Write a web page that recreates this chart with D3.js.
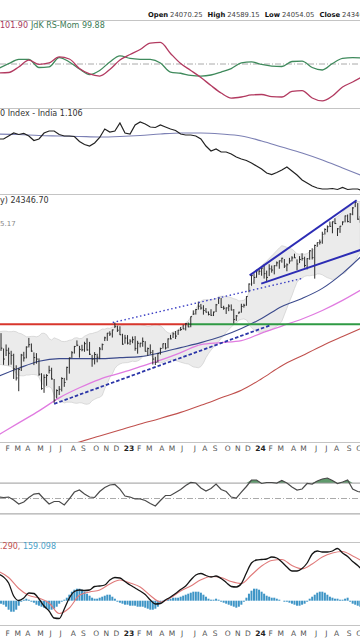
<!DOCTYPE html>
<html>
<head>
<meta charset="utf-8">
<script src="https://cdn.jsdelivr.net/npm/d3@7"></script>
<style>
  body { margin: 0; background: #fff; }
  svg { display: block; }
  text { font-family: "DejaVu Sans", Verdana, sans-serif; }
</style>
</head>
<body>
<div id="chart"></div>
<script>
// weekly bars (Friday), 14 Jan 2022 .. 11 Oct 2024
const weeks = d3.timeFriday.range(new Date(2022, 0, 14), new Date(2024, 9, 12))

const high = [
  18350, 18351, 17600, 17794, 17640, 17490, 17351, 16815, 16694, 17344, 17442, 17704, 18114, 17842, 17414, 17379, 17133,
  16456, 16400, 16414, 16794, 16704, 16200, 15749, 15890, 16275, 16248, 16752, 17172, 17474, 17724, 17992, 17727, 17778,
  17925, 18096, 17919, 17295, 17428, 17348, 17670, 17838, 18175, 18362, 18443, 18534, 18888, 18728, 18696, 18318, 18265,
  18252, 18050, 18183, 18202, 17972, 17877, 18134, 17954, 17645, 17799, 17529, 17207, 17381, 17639, 17842, 17863, 18089,
  18267, 18389, 18458, 18508, 18663, 18777, 18864, 18887, 19201, 19524, 19595, 19992, 19867, 19796, 19646, 19465, 19584,
  19458, 19867, 20222, 20196, 19766, 19675, 19849, 19840, 19593, 19277, 19451, 19875, 19875, 20291, 21006, 21493, 21593,
  21801, 21834, 21929, 22124, 21750, 22127, 22053, 22068, 22297, 22353, 22526, 22446, 22180, 22516, 22619, 22775, 22427,
  22625, 22795, 22588, 22503, 22994, 23111, 23339, 23490, 23667, 24175, 24401, 24592, 24855, 24861, 25078, 24419, 24563,
  24867, 25268, 25333, 25434, 25849, 26277, 26134, 25234
]
const low = [
  17900, 17485, 16837, 17244, 16810, 16843, 16203, 16134, 15671, 16556, 16988, 17135, 17650, 17442, 16824, 16888, 16341,
  15735, 15602, 15903, 16444, 16172, 15183, 15368, 15511, 15661, 15858, 16143, 16438, 17154, 17359, 17710, 17166, 17468,
  17445, 17497, 17291, 16748, 16855, 16950, 17098, 17520, 17959, 17969, 18210, 18133, 18604, 18410, 18255, 17780, 17833,
  17796, 17774, 17854, 17493, 17353, 17653, 17684, 17455, 17255, 17324, 16850, 16828, 16940, 17312, 17597, 17553, 17613,
  18042, 18109, 18060, 18262, 18464, 18544, 18483, 18647, 18647, 19282, 19300, 19562, 19563, 19296, 19412, 19257, 19229,
  19224, 19433, 19866, 19657, 19554, 19333, 19480, 19518, 18838, 18973, 19329, 19400, 19668, 19768, 20507, 20872, 20977,
  21329, 21500, 21450, 21285, 21137, 21430, 21630, 21530, 22004, 21860, 22224, 21905, 21711, 22163, 22303, 22503, 21778,
  22198, 22348, 21933, 21821, 22404, 22417, 21281, 23204, 23350, 23398, 23992, 24141, 24508, 24074, 24686, 23894, 24099,
  24607, 24799, 24801, 24754, 25285, 25847, 24967, 24772
]
const close = [
  18256, 17617, 17102, 17516, 17375, 17276, 16658, 16245, 16630, 17287, 17153, 17670, 17784, 17476, 17172, 17102, 16411,
  15782, 16266, 16352, 16584, 16202, 15294, 15699, 15752, 16220, 16049, 16719, 17158, 17398, 17698, 17758, 17559, 17539,
  17833, 17531, 17327, 17094, 17315, 17186, 17576, 17787, 18117, 18350, 18308, 18513, 18697, 18497, 18269, 17807, 18105,
  17859, 17957, 18028, 17604, 17854, 17856, 17944, 17466, 17594, 17413, 17100, 16945, 17360, 17599, 17828, 17624, 18065,
  18069, 18315, 18203, 18499, 18534, 18563, 18826, 18665, 19189, 19332, 19564, 19745, 19646, 19517, 19428, 19310, 19265,
  19435, 19820, 20192, 19674, 19638, 19653, 19751, 19542, 19047, 19230, 19425, 19732, 19795, 20268, 20970, 21457, 21349,
  21731, 21711, 21895, 21572, 21353, 21854, 21783, 22041, 22213, 22339, 22494, 22023, 22097, 22327, 22514, 22519, 22147,
  22420, 22476, 22055, 22467, 22957, 22531, 23290, 23466, 23501, 24011, 24324, 24502, 24531, 24835, 24718, 24368, 24541,
  24823, 25236, 24852, 25357, 25791, 26179, 25015, 24964
]
// 19 closes before the first bar, so the 20-week bands start on bar one
const warmupClose = [17324, 17369, 17585, 17853, 17532, 17895, 18339, 18115, 17672, 17916, 18103, 17765, 17026, 17197, 17511, 16985, 17004, 17354, 17813]

// moving averages, read every 8 weeks
const sma50 = [16322, 16682, 17003, 17120, 17120, 17120, 17167, 17214, 17403, 17642, 17884, 18180, 18581, 19095, 19732, 20166, 20725, 21590, 22555]
const sma100 = [13914, 14377, 14855, 15392, 15818, 16188, 16456, 16750, 17050, 17403, 17787, 17884, 17983, 18355, 18709, 19070, 19517, 20057, 20611]
const sma200 = [12749, 13031, 13246, 13464, 13650, 13876, 14105, 14337, 14554, 14794, 15080, 15391, 15710, 16211, 16797, 17262, 17738, 18180, 18566]

// JdK lines, every 4 weeks
const rsRatio = [99.39, 99.42, 99.80, 100.27, 99.97, 100.07, 100.48, 100.34, 99.69, 99.32, 99.18, 99.63, 100.27, 100.65, 100.99, 101.43, 101.47, 100.72, 100.03, 99.56, 99.08, 98.53, 98.02, 97.68, 97.75, 97.89, 97.92, 97.78, 97.75, 98.13, 98.19, 97.68, 97.48, 97.82, 98.43, 98.77, 99.05]
const rsMom = [99.69, 100.02, 100.31, 100.31, 99.76, 99.80, 100.44, 100.14, 99.66, 99.28, 99.56, 100.14, 100.55, 100.38, 100.32, 100.31, 100.07, 99.45, 99.37, 99.22, 99.18, 99.25, 99.45, 99.69, 100.07, 100.14, 99.97, 99.86, 99.83, 100.17, 100.20, 99.76, 99.59, 100.03, 100.38, 100.44, 100.41]

// relative strength vs India index, every 2 weeks; its average every 8 weeks
const relLine = [1.310, 1.310, 1.322, 1.334, 1.328, 1.332, 1.322, 1.304, 1.310, 1.334, 1.342, 1.342, 1.328, 1.322, 1.322, 1.320, 1.300, 1.288, 1.282, 1.294,
  1.316, 1.350, 1.338, 1.342, 1.374, 1.334, 1.330, 1.366, 1.378, 1.370, 1.358, 1.356, 1.366, 1.358, 1.350, 1.344, 1.330, 1.326, 1.326, 1.322,
  1.310, 1.282, 1.262, 1.270, 1.258, 1.258, 1.250, 1.238, 1.230, 1.224, 1.214, 1.202, 1.190, 1.174, 1.168, 1.176, 1.186, 1.198, 1.182, 1.166,
  1.146, 1.134, 1.122, 1.114, 1.110, 1.110, 1.112, 1.108, 1.116, 1.108, 1.110, 1.110, 1.106]
const relAvg = [1.330, 1.328, 1.324, 1.322, 1.320, 1.318, 1.320, 1.324, 1.330, 1.334, 1.334, 1.330, 1.322, 1.302, 1.278, 1.254, 1.226, 1.194, 1.166]

// RSI, every 2 weeks
const rsi = [51.9, 51.3, 51.9, 48.1, 42.9, 45.5, 51.3, 55.8, 56.5, 49.4, 42.9, 46.1, 46.1, 41.6, 49.4, 58.4, 61.0, 55.8, 51.9, 51.3,
  59.1, 64.3, 67.5, 68.2, 62.3, 53.2, 51.9, 49.4, 49.4, 47.4, 43.5, 40.3, 47.4, 53.9, 53.9, 57.8, 61.7, 66.9, 70.8, 70.1,
  63.6, 59.7, 63.0, 68.8, 61.7, 59.1, 51.9, 50.6, 58.4, 65.6, 74.0, 74.0, 69.5, 70.8, 70.8, 70.1, 73.4, 70.1, 64.9, 61.0,
  62.3, 69.5, 68.8, 72.7, 75.3, 76.6, 73.4, 69.5, 71.4, 74.0, 62.3, 59.1, 58.4]

// MACD every 2 weeks, signal every 4 weeks, histogram weekly
const macd = [534, 474, 354, 94, 4, 54, 154, 144, 34, -106, -206, -346, -356, -166, 54, 184, 214, 204, 214, 284,
  294, 314, 414, 464, 454, 384, 314, 254, 194, 124, 14, -66, -56, 14, 74, 144, 224, 294, 414, 514,
  544, 504, 474, 494, 444, 364, 284, 274, 344, 554, 754, 814, 824, 834, 874, 854, 774, 674, 594, 594,
  644, 754, 934, 994, 974, 974, 994, 1044, 954, 884, 784, 704, 654]
const signal = [584, 464, 244, 104, 54, -46, -256, -146, 108, 174, 214, 334, 414, 354, 274, 104, -26, 58, 194, 294,
  418, 484, 464, 384, 344, 514, 694, 804, 824, 704, 638, 734, 874, 954, 984, 894, 814]
const hist = [
  -40, -60, -80, -120, -180, -220, -220, -180, -100, -20, 20, 40, 20, -20, -40, -80, -100, -120, -140, -160,
  -180, -180, -160, -120, -60, -20, 20, 60, 120, 180, 220, 240, 240, 220, 180, 140, 100, 60, 40, 40,
  60, 80, 100, 120, 120, 80, 40, -20, -40, -60, -80, -80, -100, -100, -100, -120, -120, -120, -140, -160,
  -180, -180, -160, -120, -60, -20, 20, 40, 40, 60, 60, 60, 80, 100, 120, 140, 160, 180, 180, 180,
  160, 120, 80, 40, 20, 20, 40, 20, -20, -40, -60, -80, -100, -120, -140, -120, -80, -20, 60, 140,
  200, 240, 240, 220, 180, 140, 100, 80, 60, 60, 40, 20, 0, -20, -20, -40, -60, -80, -100, -100,
  -80, -60, -20, 40, 80, 120, 160, 180, 180, 160, 120, 80, 60, 40, 40, 20, 20, 40, 60, -20,
  -60, -80, -100, -120
]

// drawn lines on the price chart: [date, price] end points
const levelPrice = 18800
const levelSwitch = new Date(2023, 5, 21)
const wedgeTop = [[new Date(2023, 11, 10), 21474], [new Date(2024, 9, 1), 26335]]
const wedgeBottom = [[new Date(2024, 0, 11), 20992], [new Date(2024, 9, 12), 23010]]
const dottedTrend = [[new Date(2022, 10, 26), 18887], [new Date(2024, 4, 5), 21300]]
const dashedTrend = [[new Date(2022, 5, 17), 15141], [new Date(2024, 1, 3), 18734]]

const header = [['Open', '24070.25'], ['High', '24589.15'], ['Low', '24054.05'], ['Close', '24346.70']]

// ---------------------------------------------------------------
const W = 360, H = 640
const svg = d3.select('#chart').append('svg').attr('width', W).attr('height', H)

const x = d3.scaleTime()
  .domain([new Date(2022, 0, 1), new Date(2025, 0, 1)])
  .range([-6.2, 389.9])

const yRrg = d3.scaleLinear().domain([97, 103]).range([108, 20])
const yRel = d3.scaleLinear().domain([1.09, 1.434]).range([194, 108])
const yPrice = d3.scaleLog().domain([13650, 26786]).range([442, 194])
const yRsi = d3.scaleLinear().domain([0, 100]).range([537, 460])
const yMacd = d3.scaleLinear().domain([-486, 1174]).range([625, 542])

function sampleWeeks(step) {
  const idx = d3.range(0, weeks.length - 1, step)
  idx.push(weeks.length - 1)
  return idx.map(i => weeks[i])
}

function clipped(id, top, bottom) {
  svg.append('clipPath').attr('id', id)
    .append('rect').attr('x', 0).attr('y', top).attr('width', W).attr('height', bottom - top)
  return svg.append('g').attr('clip-path', 'url(#' + id + ')')
}

function drawSeries(g, values, step, yScale, color, width, curve) {
  const dates = sampleWeeks(step)
  const line = d3.line()
    .x((v, i) => x(dates[i]))
    .y(v => yScale(v))
    .curve(curve || d3.curveMonotoneX)
  g.append('path').datum(values)
    .attr('d', line)
    .attr('fill', 'none')
    .attr('stroke', color)
    .attr('stroke-width', width)
}

function hline(g, y, color, dash) {
  g.append('line').attr('x1', 0).attr('x2', W).attr('y1', y).attr('y2', y)
    .attr('stroke', color).attr('stroke-width', 1)
    .attr('stroke-dasharray', dash || null)
}

// panel borders
;[20, 108, 194, 442, 542, 625].forEach(y => hline(svg, y + 0.5, '#c4c4c4'))

// header
const hdr = svg.append('text').attr('x', 148).attr('y', 17).attr('font-size', 6.8).attr('fill', '#111')
header.forEach(([k, v], i) => {
  hdr.append('tspan').attr('dx', i ? 5 : 0).attr('font-weight', 'bold').text(k)
  hdr.append('tspan').attr('dx', 2).attr('fill', '#444').text(v)
})

// ---- panel 1 : JdK RS-Ratio / RS-Mom
const p1 = clipped('c1', 21, 108)
hline(p1, yRrg(100), '#aaa', '6,2,1,2')
drawSeries(p1, rsMom, 4, yRrg, '#3f8a5c', 1.3)
drawSeries(p1, rsRatio, 4, yRrg, '#b23a60', 1.3)
const t1 = svg.append('text').attr('x', 0).attr('y', 28).attr('font-size', 8)
t1.append('tspan').attr('fill', '#a8385c').text('101.90')
t1.append('tspan').attr('fill', '#3b7a55').attr('dx', 3).text('JdK RS-Mom 99.88')

// ---- panel 2 : relative strength
const p2 = clipped('c2', 109, 194)
drawSeries(p2, relAvg, 8, yRel, '#7c80b4', 1.2)
drawSeries(p2, relLine, 2, yRel, '#222', 1.2, d3.curveLinear)
svg.append('text').attr('x', 0).attr('y', 116).attr('font-size', 8).attr('fill', '#333')
  .text('0 Index - India 1.106')

// ---- panel 3 : price
const p3 = clipped('c3', 195, 442)
const allClose = warmupClose.concat(close)
const bands = weeks.map((d, i) => {
  const win = allClose.slice(i, i + 20)
  const m = d3.mean(win)
  const sd = Math.sqrt(d3.mean(win, v => (v - m) * (v - m)))
  return { d, up: m + 2 * sd, lo: m - 2 * sd }
})
p3.append('path').datum(bands)
  .attr('d', d3.area().x(b => x(b.d)).y0(b => yPrice(b.lo)).y1(b => yPrice(b.up)))
  .attr('fill', '#ebebeb').attr('stroke', '#cfcfcf').attr('stroke-width', 0.7)

drawSeries(p3, sma200, 8, yPrice, '#c0504d', 1.1)
drawSeries(p3, sma100, 8, yPrice, '#e07be0', 1.3)
drawSeries(p3, sma50, 8, yPrice, '#3b4a8c', 1.1)

// level line: red while resistance, green once broken
p3.append('line')
  .attr('x1', 0).attr('x2', x(levelSwitch))
  .attr('y1', yPrice(levelPrice)).attr('y2', yPrice(levelPrice))
  .attr('stroke', '#d8362c').attr('stroke-width', 2)
p3.append('line')
  .attr('x1', x(levelSwitch)).attr('x2', W)
  .attr('y1', yPrice(levelPrice)).attr('y2', yPrice(levelPrice))
  .attr('stroke', '#2f9a44').attr('stroke-width', 2)

// weekly bars
const bars = p3.append('g').attr('stroke', '#2a2a2a').attr('stroke-width', 1)
weeks.forEach((d, i) => {
  const cx = x(d)
  bars.append('line').attr('x1', cx).attr('x2', cx)
    .attr('y1', yPrice(high[i])).attr('y2', yPrice(low[i]))
  bars.append('line').attr('x1', cx).attr('x2', cx + 1.3)
    .attr('y1', yPrice(close[i])).attr('y2', yPrice(close[i]))
})

function trend(pts, color, width, dash) {
  p3.append('line')
    .attr('x1', x(pts[0][0])).attr('y1', yPrice(pts[0][1]))
    .attr('x2', x(pts[1][0])).attr('y2', yPrice(pts[1][1]))
    .attr('stroke', color).attr('stroke-width', width)
    .attr('stroke-dasharray', dash || null)
}
trend(dottedTrend, '#3b3fc4', 1.4, '1.5,2.5')
trend(dashedTrend, '#2b35a8', 1.8, '3.5,2')
trend(wedgeTop, '#2c2cb4', 2)
trend(wedgeBottom, '#2c2cb4', 2)

svg.append('text').attr('x', 0).attr('y', 203).attr('font-size', 8).attr('fill', '#333')
  .text('y) 24346.70')
svg.append('text').attr('x', 0).attr('y', 226).attr('font-size', 7).attr('fill', '#888')
  .text('5.17')

// month labels
function monthLabels(yBase) {
  const g = svg.append('g').attr('font-size', 7.5).attr('text-anchor', 'middle')
  weeks.forEach((d, i) => {
    if (i === 0 || d.getMonth() === weeks[i - 1].getMonth()) return
    const jan = d.getMonth() === 0
    g.append('text').attr('x', x(d) + 1.5).attr('y', yBase)
      .attr('fill', jan ? '#222' : '#555')
      .attr('font-weight', jan ? 'bold' : 'normal')
      .text(jan ? d3.timeFormat('%y')(d) : d3.timeFormat('%b')(d)[0])
  })
}
monthLabels(451)

// ---- panel 4 : RSI
const p4 = clipped('c4', 456, 540)
const rsiDates = sampleWeeks(2)
p4.append('path').datum(rsi)
  .attr('d', d3.area()
    .x((v, i) => x(rsiDates[i]))
    .y0(yRsi(70))
    .y1(v => yRsi(Math.max(v, 70))))
  .attr('fill', '#5f9a6c')
hline(p4, yRsi(70), '#9a9a9a')
hline(p4, yRsi(30), '#9a9a9a')
hline(p4, yRsi(50), '#aaa', '6,2,1,2')
drawSeries(p4, rsi, 2, yRsi, '#4a4a4a', 1.2, d3.curveLinear)

// ---- panel 5 : MACD
const p5 = clipped('c5', 543, 625)
p5.append('g').selectAll('rect').data(hist).join('rect')
  .attr('x', (v, i) => x(weeks[i]) - 1)
  .attr('width', 2)
  .attr('y', v => Math.min(yMacd(0), yMacd(v)))
  .attr('height', v => Math.abs(yMacd(v) - yMacd(0)))
  .attr('fill', '#3e95c6')
drawSeries(p5, signal, 4, yMacd, '#e07a7a', 1.1)
drawSeries(p5, macd, 2, yMacd, '#151515', 1.3)
const t5 = svg.append('text').attr('x', 0).attr('y', 549).attr('font-size', 8)
t5.append('tspan').attr('fill', '#c05050').text('.290, ')
t5.append('tspan').attr('fill', '#4aa0c8').text('159.098')
monthLabels(636)
</script>
</body>
</html>
